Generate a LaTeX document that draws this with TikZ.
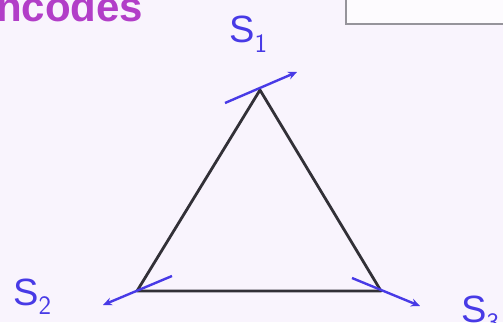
\documentclass[tikz,border=0pt]{standalone}
\usepackage{fontspec}
\setmainfont{Liberation Sans}
\definecolor{bgc}{RGB}{249,244,253}
\definecolor{magc}{RGB}{178,62,200}
\definecolor{bluec}{RGB}{72,58,230}
\definecolor{edgec}{RGB}{50,48,55}
\definecolor{boxc}{RGB}{150,148,155}
\tikzset{
  lbl/.style={text=bluec, font=\fontsize{38}{40}\selectfont, inner sep=0pt},
  tri/.style={draw=edgec, line width=2.8pt, line join=round},
  tang/.style={draw=bluec, line width=2.4pt, -{Stealth[length=9pt,width=8pt]}},
}
\usetikzlibrary{arrows.meta}
\begin{document}
\begin{tikzpicture}[x=1pt,y=1pt]
\fill[bgc] (0,0) rectangle (503,322);
\useasboundingbox (0,0) rectangle (503,322);
% partial title
\node[anchor=base west, text=magc, inner sep=0pt, font=\fontsize{42}{44}\selectfont\bfseries] (title) at (-4,300) {ncodes};
% partial box top right
\draw[boxc, line width=1.5pt, fill=white!60!bgc] (346,298) rectangle (520,330);
% triangle
\coordinate (A) at (260,232);
\coordinate (B) at (137,31);
\coordinate (C) at (381,31);
\draw[tri] (A) -- (B) -- (C) -- cycle;
% tangent arrows
\coordinate (A0) at (225,219);
\coordinate (A1) at (297,250);
\coordinate (B0) at (172,46);
\coordinate (B1) at (103,17);
\coordinate (C0) at (352,44);
\coordinate (C1) at (420,16);
\draw[tang] (A0) -- (A1);
\draw[tang] (B0) -- (B1);
\draw[tang] (C0) -- (C1);
% labels
\node[lbl, anchor=base west] (s1) at (229,279) {S$_{\mathsf{1}}$};
\node[lbl, anchor=base west] (s2) at (13,17) {S$_{\mathsf{2}}$};
\node[lbl, anchor=base west] (s3) at (461,0) {S$_{\mathsf{3}}$};
\end{tikzpicture}
\end{document}
